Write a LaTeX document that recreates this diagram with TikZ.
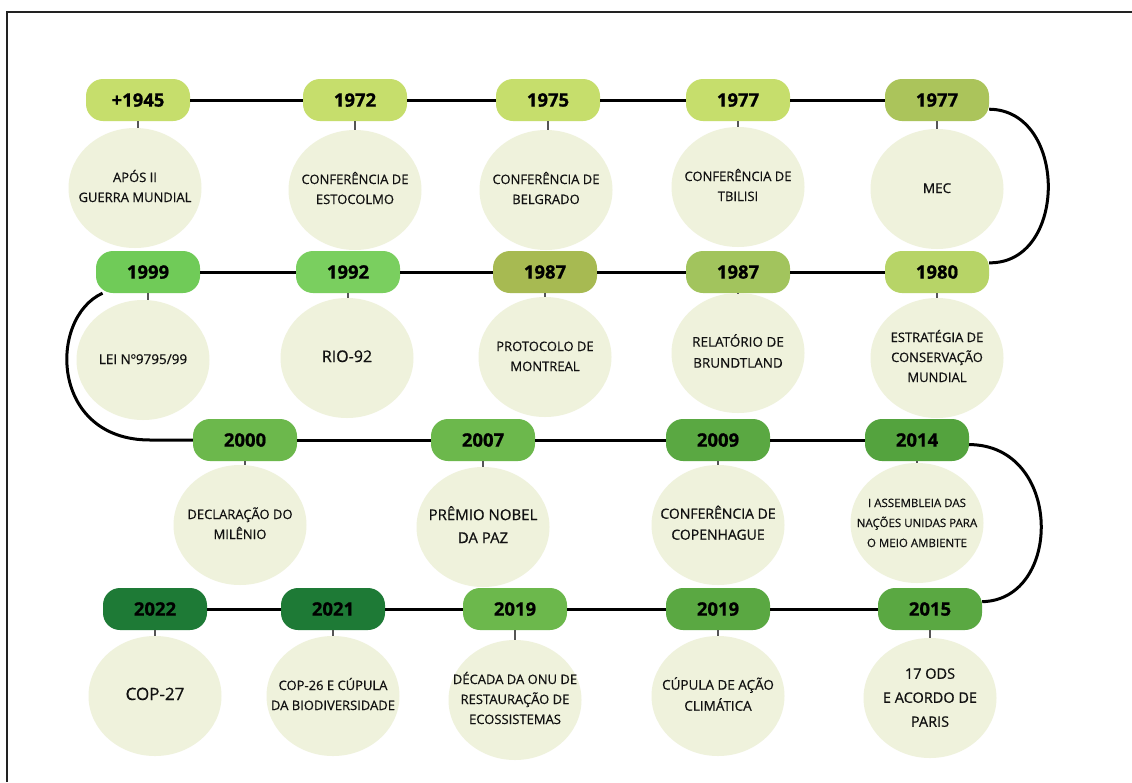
\documentclass[tikz,border=0pt]{standalone}
\usepackage{fontspec}
\setmainfont{Open Sans}[FakeBold=0.6]
\newfontfamily\yearfont{Open Sans}[FakeBold=0.8]
\usetikzlibrary{shapes.geometric}
\definecolor{blobc}{HTML}{EFF2DC}
\definecolor{tickc}{HTML}{555555}
\definecolor{lime}{HTML}{C6DE6C}
\definecolor{olive}{HTML}{ABC45B}
\definecolor{oliveb}{HTML}{A7BA52}
\definecolor{olivec}{HTML}{A2C45D}
\definecolor{limeb}{HTML}{B7D467}
\definecolor{brightg}{HTML}{70CB58}
\definecolor{brightgb}{HTML}{7ACF5F}
\definecolor{midg}{HTML}{6CB84C}
\definecolor{midgb}{HTML}{5AA842}
\definecolor{midgc}{HTML}{54A33E}
\definecolor{darkg}{HTML}{1E7A36}
\definecolor{frame}{HTML}{222222}
\definecolor{ink}{HTML}{111111}
\newcommand\lbl[1]{\makebox[0pt]{\begin{tabular}{@{}c@{}}#1\end{tabular}}}
\tikzset{
  pill/.style={rectangle, rounded corners=17pt, minimum width=104pt, minimum height=42pt,
    inner sep=0pt, text=black, font=\yearfont\fontsize{18.5}{20}\selectfont\bfseries},
  blob/.style={ellipse, fill=blobc, minimum width=133pt, minimum height=120pt,
    inner sep=0pt, text=ink, font=\fontsize{13}{20}\selectfont},
  tickln/.style={draw=tickc, line width=1.3pt},
  link/.style={draw=black, line width=3pt},
}
\begin{document}
\begin{tikzpicture}[x=1pt,y=-1pt]
\useasboundingbox (0,0) rectangle (1132,782);
\fill[white] (0,0) rectangle (1132,782);
\draw[frame, line width=2pt] (7,782) -- (7,12) -- (1132,12);

% row 1
\node[pill, fill=lime]  (p1) at (138,100) {+1945};
\node[pill, fill=lime]  (p2) at (355,100) {1972};
\node[pill, fill=lime]  (p3) at (548,100) {1975};
\node[pill, fill=lime]  (p4) at (738,100) {1977};
\node[pill, fill=olive] (p5) at (937,100) {1977};
\node[blob] (c1) at (135,188) {\lbl{APÓS II\\GUERRA MUNDIAL}};
\node[blob] (c2) at (355,190) {\lbl{CONFERÊNCIA DE\\ESTOCOLMO}};
\node[blob] (c3) at (546,190) {\lbl{CONFERÊNCIA DE\\BELGRADO}};
\node[blob] (c4) at (738,187) {\lbl{CONFERÊNCIA DE\\TBILISI}};
\node[blob, font=\fontsize{13.5}{20}\selectfont] (c5) at (937,189) {\lbl{MEC}};

% row 2
\node[pill, fill=brightg]  (p6)  at (148,272) {1999};
\node[pill, fill=brightgb] (p7)  at (348,272) {1992};
\node[pill, fill=oliveb]   (p8)  at (545,272) {1987};
\node[pill, fill=olivec]   (p9)  at (738,272) {1987};
\node[pill, fill=limeb]    (p10) at (937,272) {1980};
\node[blob, font=\fontsize{13.5}{20}\selectfont] (c6) at (143,360) {\lbl{LEI Nº9795/99}};
\node[blob, font=\fontsize{16}{20}\selectfont] (c7) at (347,358) {\lbl{RIO-92}};
\node[blob] (c8)  at (545,357) {\lbl{PROTOCOLO DE\\MONTREAL}};
\node[blob, font=\fontsize{13.5}{21}\selectfont] (c9)  at (738,353) {\lbl{RELATÓRIO DE\\BRUNDTLAND}};
\node[blob] (c10) at (937,358) {\lbl{ESTRATÉGIA DE\\CONSERVAÇÃO\\MUNDIAL}};

% row 3
\node[pill, fill=midg]  (p11) at (245,440) {2000};
\node[pill, fill=midg]  (p12) at (483,440) {2007};
\node[pill, fill=midgb] (p13) at (718,440) {2009};
\node[pill, fill=midgc] (p14) at (917,440) {2014};
\node[blob] (c11) at (240,525) {\lbl{DECLARAÇÃO DO\\MILÊNIO}};
\node[blob, font=\fontsize{15}{23}\selectfont] (c12) at (483,527) {\lbl{PRÊMIO NOBEL\\DA PAZ}};
\node[blob, font=\fontsize{14}{21}\selectfont] (c13) at (718,525) {\lbl{CONFERÊNCIA DE\\COPENHAGUE}};
\node[blob, font=\fontsize{11.5}{20}\selectfont] (c14) at (917,523) {\lbl{I ASSEMBLEIA DAS\\NAÇÕES UNIDAS PARA\\O MEIO AMBIENTE}};

% row 4
\node[pill, fill=darkg] (p16) at (155,609) {2022};
\node[pill, fill=darkg] (p17) at (333,609) {2021};
\node[pill, fill=midg]  (p18) at (515,609) {2019};
\node[pill, fill=midgb] (p19) at (718,609) {2019};
\node[pill, fill=midgb] (p15) at (930,609) {2015};
\node[blob, font=\fontsize{17}{20}\selectfont] (c16) at (155,696) {\lbl{COP-27}};
\node[blob] (c17) at (333,696) {\lbl{COP-26 E CÚPULA\\DA BIODIVERSIDADE}};
\node[blob] (c18) at (515,700) {\lbl{DÉCADA DA ONU DE\\RESTAURAÇÃO DE\\ECOSSISTEMAS}};
\node[blob, font=\fontsize{13.5}{21}\selectfont] (c19) at (718,696) {\lbl{CÚPULA DE AÇÃO\\CLIMÁTICA}};
\node[blob, font=\fontsize{14.5}{24}\selectfont] (c15) at (930,698) {\lbl{17 ODS\\E ACORDO DE\\PARIS}};

% ticks
\foreach \i in {1,...,19}{
  \draw[tickln] (p\i.south) -- (p\i.south |- c\i.north);
}

% connectors
\draw[link] (p1.east) -- (p2.west);
\draw[link] (p2.east) -- (p3.west);
\draw[link] (p3.east) -- (p4.west);
\draw[link] (p4.east) -- (p5.west);
\draw[link] (p5.-10) .. controls (1068,110) and (1068,264) .. (p10.10);
\draw[link] (p10.west) -- (p9.east);
\draw[link] (p9.west) -- (p8.east);
\draw[link] (p8.west) -- (p7.east);
\draw[link] (p7.west) -- (p6.east);
\coordinate (bend) at (150,440);
\draw[link] (p6.205) .. controls (48,318) and (50,440) .. (bend) -- (p11.west);
\draw[link] (p11.east) -- (p12.west);
\draw[link] (p12.east) -- (p13.west);
\draw[link] (p13.east) -- (p14.west);
\draw[link] (p14.-5) .. controls (1063,445) and (1063,600) .. (p15.8);
\draw[link] (p15.west) -- (p19.east);
\draw[link] (p19.west) -- (p18.east);
\draw[link] (p18.west) -- (p17.east);
\draw[link] (p17.west) -- (p16.east);
\end{tikzpicture}
\end{document}
